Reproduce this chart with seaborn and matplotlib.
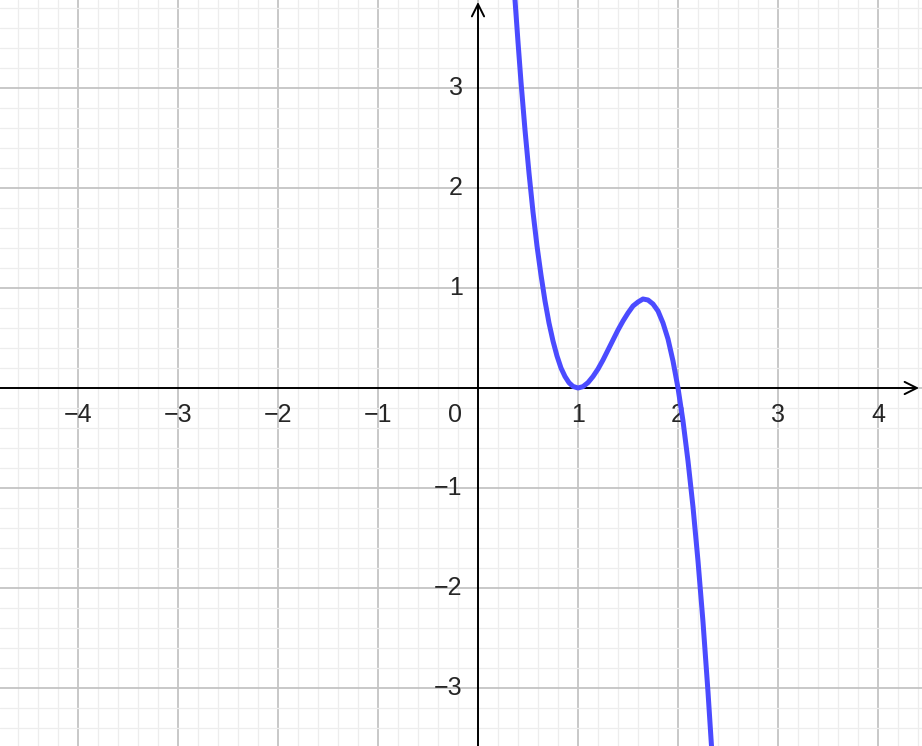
import matplotlib
matplotlib.use("Agg")
import matplotlib.pyplot as plt
import seaborn as sns
from matplotlib.ticker import MultipleLocator

# ---------------------------------------------------------------------
# data
# ---------------------------------------------------------------------
curve_x = [0.37, 0.40, 0.43, 0.47, 0.51, 0.55, 0.59, 0.63, 0.67, 0.71, 0.75,
           0.79, 0.83, 0.87, 0.91, 0.95, 1.0, 1.05, 1.1, 1.15, 1.2, 1.25,
           1.3, 1.35, 1.4, 1.45, 1.5, 1.55, 1.6, 1.65, 1.7, 1.75, 1.8, 1.85,
           1.9, 1.95, 2.0, 2.05, 2.1, 2.15, 2.2, 2.25, 2.3, 2.34]
curve_y = [3.88, 3.46, 3.06, 2.58, 2.15, 1.76, 1.42, 1.13, 0.87, 0.65, 0.47,
           0.32, 0.20, 0.115, 0.053, 0.016, 0.0, 0.014, 0.054, 0.115, 0.19, 0.28,
           0.38, 0.48, 0.58, 0.67, 0.75, 0.82, 0.86, 0.89, 0.88, 0.84, 0.77, 0.65,
           0.49, 0.27, 0.0, -0.33, -0.73, -1.19, -1.73, -2.34, -3.04, -3.66]

x_ticks = [-4, -3, -2, -1, 1, 2, 3, 4]
y_ticks = [-3, -2, -1, 1, 2, 3]
x_range = (-4.78, 4.44)
y_range = (-3.58, 3.88)

# ---------------------------------------------------------------------
# figure
# ---------------------------------------------------------------------
sns.set_theme(style="white")
plt.rcParams["font.family"] = ["Liberation Sans", "DejaVu Sans"]

fig = plt.figure(figsize=(9.22, 7.46), dpi=100)
ax = fig.add_axes([0, 0, 1, 1])

# grid
ax.xaxis.set_major_locator(MultipleLocator(1))
ax.yaxis.set_major_locator(MultipleLocator(1))
ax.xaxis.set_minor_locator(MultipleLocator(0.2))
ax.yaxis.set_minor_locator(MultipleLocator(0.2))
ax.grid(which="minor", color="#ededed", lw=0.9, zorder=0)
ax.grid(which="major", color="#c4c4c4", lw=1.3, zorder=1)
ax.tick_params(which="both", length=0, labelbottom=False, labelleft=False)
for s in ax.spines.values():
    s.set_visible(False)

# curve
sns.lineplot(x=curve_x, y=curve_y, ax=ax, color="#4b4bff", lw=3.6,
             sort=False, estimator=None, zorder=5,
             solid_joinstyle="round", solid_capstyle="round")
ax.set_xlim(*x_range)
ax.set_ylim(*y_range)

# axes with arrows
arrow = dict(arrowstyle="->", color="black", lw=1.4, mutation_scale=22,
             shrinkA=0, shrinkB=0)
ax.annotate("", xy=(4.41, 0), xytext=(x_range[0], 0), arrowprops=arrow, zorder=3)
ax.annotate("", xy=(0, 3.86), xytext=(0, y_range[0]), arrowprops=arrow, zorder=3)

# tick labels
for t in x_ticks:
    lbl = f"{t}".replace("-", "\u2212")
    ax.text(t, -0.27, lbl, ha="center", va="center", fontsize=18, zorder=4)
for t in y_ticks:
    lbl = f"{t}".replace("-", "\u2212")
    ax.text(-0.155, t, lbl, ha="right", va="center", fontsize=18, zorder=4)
ax.text(-0.23, -0.27, "0", ha="center", va="center", fontsize=18, zorder=4)

fig.savefig("out.png", dpi=100)
